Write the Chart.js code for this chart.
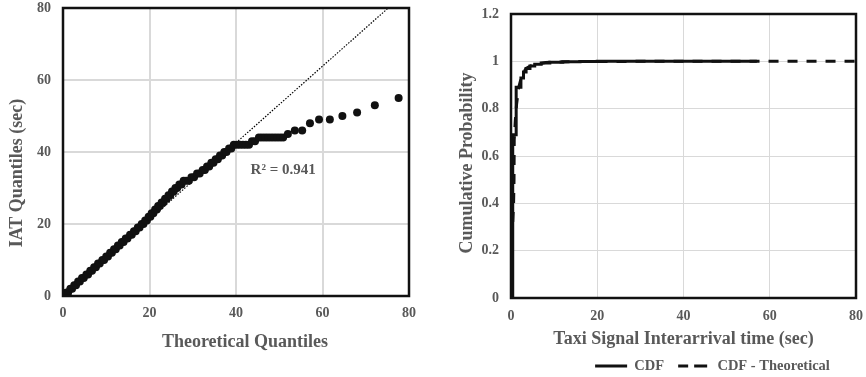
<!DOCTYPE html>
<html>
<head>
<meta charset="utf-8">
<script src="https://cdn.jsdelivr.net/npm/chart.js@4.4.1/dist/chart.umd.min.js"></script>
<style>
  html, body { margin: 0; padding: 0; background: #fff; }
  #wrap { position: relative; width: 866px; height: 377px; overflow: hidden; }
  #qq { position: absolute; left: 0; top: 0; }
  #cdf { position: absolute; left: 433px; top: 0; }
</style>
</head>
<body>
<div id="wrap">
  <canvas id="qq" width="433" height="377"></canvas>
  <canvas id="cdf" width="433" height="377"></canvas>
</div>
<script>
const FONT = 'Liberation Serif';
const GREY = '#595959';

// Q-Q plot: [theoretical quantile, IAT quantile]
const qqPoints = [
  [0,0],[0.3,0],[0.8,1],[1.2,1],[1.7,2],[2.1,2],[2.6,3],[3.0,3],[3.5,4],[3.9,4],
  [4.4,5],[4.8,5],[5.4,6],[5.8,6],[6.3,7],[6.7,7],[7.2,8],[7.6,8],[8.1,9],[8.5,9],
  [9.1,10],[9.5,10],[10.0,11],[10.4,11],[10.9,12],[11.3,12],[11.8,13],[12.2,13],
  [12.7,14],[13.1,14],[13.6,15],[14.0,15],[14.5,16],[14.9,16],[15.5,17],[15.9,17],
  [16.4,18],[16.8,18],[17.3,19],[17.7,19],[18.2,20],[18.6,20],[19.0,21],[19.4,21],
  [19.8,22],[20.2,22],[20.5,23],[20.9,23],[21.3,24],[21.7,24],[22.0,25],[22.4,25],
  [22.8,26],[23.2,26],[23.6,27],[24.0,27],[24.4,28],[24.8,28],[25.2,29],[25.6,29],
  [26.0,30],[26.4,30],[26.9,31],[27.4,31],[27.9,32],[28.5,32],[29.1,32],[29.7,33],
  [30.3,33],[31.0,34],[31.6,34],[32.3,35],[32.8,35],[33.3,36],[33.8,36],[34.3,37],
  [34.8,37],[35.3,38],[35.8,38],[36.3,39],[36.8,39],[37.3,40],[37.8,40],[38.4,41],
  [38.9,41],[39.5,42],[40.2,42],[40.9,42],[41.6,42],[42.3,42],[43.0,42],[43.7,43],
  [44.4,43],[45.3,44],[46.0,44],[46.7,44],[47.4,44],[48.1,44],[48.8,44],[49.5,44],
  [50.2,44],[50.9,44],[52.0,45],[53.6,46],[55.3,46],[57.1,48],[59.2,49],[61.7,49],
  [64.6,50],[68.0,51],[72.1,53],[77.6,55]
];
const trendX = [0, 75.2];
const trendY = [0, 80];
const r2Text = 'R² = 0.941';
const r2Pos = [50.9, 35];

// CDF plot
const cdfX = [0, 0.4, 1.2, 2.3, 2.9, 3.5, 4.4, 5.5, 7, 9, 12, 16, 20, 57];
const cdfY = [0, 0.69, 0.89, 0.93, 0.955, 0.97, 0.98, 0.988, 0.993, 0.996, 0.998, 0.999, 1, 1];
const theoX = [0, 0.35, 0.6, 0.7, 0.75, 1.0, 1.3, 1.8, 2.5, 3.5, 5, 8, 15, 30, 80];
const theoY = [0, 0.3, 0.4, 0.5, 0.67, 0.75, 0.82, 0.89, 0.94, 0.97, 0.985, 0.995, 0.999, 1, 1];
const seriesNames = ['CDF', 'CDF - Theoretical'];

const tickFont = { family: FONT, size: 14, weight: 'bold' };
const titleFont = { family: FONT, size: 18, weight: 'bold' };

// fixed axis sizes, no extra padding from the tick labels
function fixX(h) {
  return s => { s.height = h; s.paddingLeft = 0; s.paddingRight = 0; };
}
function fixY(w) {
  return s => { s.width = w; s.paddingTop = 0; s.paddingBottom = 0; };
}

// black box round the plot area
const framePlugin = {
  id: 'frame',
  afterDraw(chart) {
    const { ctx, chartArea: a } = chart;
    ctx.save();
    ctx.strokeStyle = '#111';
    ctx.lineWidth = 2.5;
    ctx.strokeRect(a.left, a.top, a.right - a.left, a.bottom - a.top);
    ctx.restore();
  }
};

// axis titles that sit off-centre like in the original
const titlesPlugin = {
  id: 'axisTitles',
  afterDraw(chart, args, opts) {
    const ctx = chart.ctx;
    ctx.save();
    ctx.font = 'bold 18px "' + FONT + '"';
    ctx.fillStyle = GREY;
    ctx.textAlign = 'center';
    ctx.textBaseline = 'middle';
    (opts.items || []).forEach(t => {
      ctx.save();
      ctx.translate(t.x, t.y);
      if (t.vertical) ctx.rotate(-Math.PI / 2);
      ctx.fillText(t.text, 0, 0);
      ctx.restore();
    });
    ctx.restore();
  }
};

const r2Plugin = {
  id: 'r2',
  afterDatasetsDraw(chart) {
    const { ctx, scales } = chart;
    ctx.save();
    ctx.font = 'bold 15px "' + FONT + '"';
    ctx.fillStyle = GREY;
    ctx.textAlign = 'center';
    ctx.textBaseline = 'middle';
    ctx.fillText(r2Text, scales.x.getPixelForValue(r2Pos[0]), scales.y.getPixelForValue(r2Pos[1]));
    ctx.restore();
  }
};

// move the legend to where the original has it
const legendShift = {
  id: 'legendShift',
  afterLayout(chart) {
    const lg = chart.legend;
    lg.left += 68; lg.right += 68;
    lg.top += 6.25; lg.bottom += 6.25;
  }
};

new Chart(document.getElementById('qq'), {
  type: 'scatter',
  data: {
    datasets: [{
      data: qqPoints.map(p => ({ x: p[0], y: p[1] })),
      backgroundColor: '#111',
      borderWidth: 0,
      pointRadius: 4
    }, {
      type: 'line',
      data: trendX.map((x, i) => ({ x: x, y: trendY[i] })),
      borderColor: '#000',
      borderWidth: 1.2,
      borderDash: [1.5, 1.5],
      pointRadius: 0
    }]
  },
  options: {
    responsive: false,
    animation: false,
    events: [],
    layout: { padding: { top: 8, right: 24, bottom: 0, left: 0 } },
    plugins: {
      legend: { display: false },
      tooltip: { enabled: false },
      axisTitles: {
        items: [
          { text: 'Theoretical Quantiles', x: 245, y: 342 },
          { text: 'IAT Quantiles (sec)', x: 17, y: 173, vertical: true }
        ]
      }
    },
    scales: {
      x: {
        type: 'linear', min: 0, max: 80,
        ticks: { stepSize: 20, font: tickFont, color: GREY, padding: 8.6 },
        grid: { color: '#d9d9d9', lineWidth: 2, drawTicks: false },
        border: { display: false },
        afterFit: fixX(81)
      },
      y: {
        min: 0, max: 80,
        ticks: { stepSize: 20, font: tickFont, color: GREY, padding: 12 },
        grid: { color: '#d9d9d9', lineWidth: 2, drawTicks: false },
        border: { display: false },
        afterFit: fixY(63)
      }
    }
  },
  plugins: [r2Plugin, titlesPlugin, framePlugin]
});

new Chart(document.getElementById('cdf'), {
  type: 'line',
  data: {
    datasets: [{
      label: seriesNames[0],
      data: cdfX.map((x, i) => ({ x: x, y: cdfY[i] })),
      borderColor: '#111',
      backgroundColor: '#111',
      borderWidth: 3,
      stepped: true,
      pointRadius: 0
    }, {
      label: seriesNames[1],
      data: theoX.map((x, i) => ({ x: x, y: theoY[i] })),
      borderColor: '#111',
      backgroundColor: '#111',
      borderWidth: 3,
      borderDash: [10, 9],
      pointRadius: 0
    }]
  },
  options: {
    responsive: false,
    animation: false,
    events: [],
    layout: { padding: { top: 14, right: 10, bottom: 0, left: 0 } },
    plugins: {
      tooltip: { enabled: false },
      legend: {
        position: 'bottom',
        labels: { boxWidth: 32, boxHeight: 0, padding: 14, color: GREY, font: { family: FONT, size: 14.5, weight: 'bold' } }
      },
      axisTitles: {
        items: [
          { text: 'Cumulative Probability', x: 34, y: 163, vertical: true }
        ]
      }
    },
    scales: {
      x: {
        type: 'linear', min: 0, max: 80,
        ticks: { stepSize: 20, font: tickFont, color: GREY, padding: 9.6 },
        grid: { color: '#d9d9d9', lineWidth: 1, drawTicks: false },
        border: { display: false },
        title: { display: true, text: 'Taxi Signal Interarrival time (sec)', font: titleFont, color: GREY, padding: { top: 0, bottom: -11.3 } },
        afterFit: fixX(40.5)
      },
      y: {
        min: 0, max: 1.2,
        ticks: {
          stepSize: 0.2, font: tickFont, color: GREY, padding: 12,
          callback: v => String(Math.round(v * 10) / 10)
        },
        grid: { color: '#d9d9d9', lineWidth: 1, drawTicks: false },
        border: { display: false },
        afterFit: fixY(78)
      }
    }
  },
  plugins: [legendShift, titlesPlugin, framePlugin]
});
</script>
</body>
</html>
